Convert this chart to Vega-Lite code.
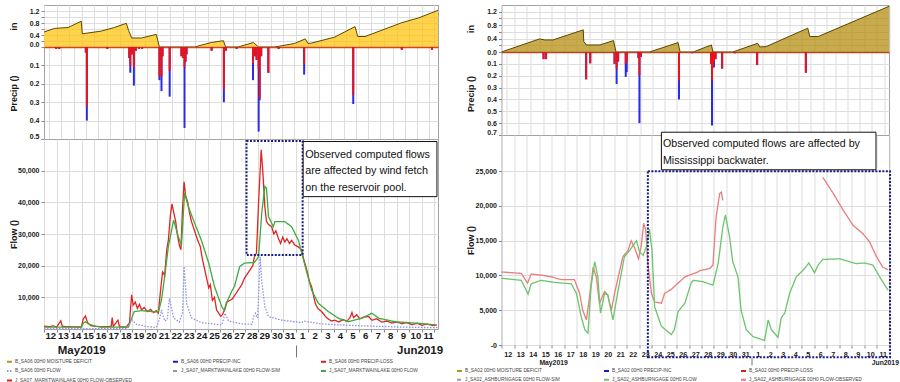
{
 "$schema": "https://vega.github.io/schema/vega-lite/v6.json",
 "background": "white",
 "padding": {"left": 5, "top": 3, "right": 5, "bottom": 0},
 "config": {
  "view": {"stroke": "#a3a3a3", "strokeWidth": 1},
  "axisX": {"labelFont": "Liberation Sans", "labelFontWeight": "bold", "labelColor": "#1a1a1a", "gridColor": "#dddddd", "tickColor": "#888888", "domain": false},
  "axisY": {"labelFont": "Liberation Sans", "labelFontSize": 7, "labelFontWeight": "bold", "labelColor": "#1a1a1a", "labelPadding": 2, "labelOverlap": false, "labelFlush": false, "tickSize": 3, "tickColor": "#888888", "gridColor": "#dddddd", "domain": false, "minExtent": 24, "maxExtent": 24, "titleFont": "Liberation Sans", "titleFontSize": 9, "titleFontWeight": "bold", "titleColor": "#1a1a1a", "titlePadding": 2},
  "legend": {"orient": "none", "direction": "horizontal", "columns": 3, "symbolType": "stroke", "symbolSize": 25, "symbolStrokeWidth": 2, "labelFont": "Liberation Sans", "labelFontSize": 4.8, "labelColor": "#444444", "labelOffset": 2, "padding": 0}
 },
 "datasets": {
  "lMoist": [
   {"t":"2019-05-12T00:00","v":0.50},{"t":"2019-05-12T20:00","v":0.62},{"t":"2019-05-13T22:00","v":0.65},{"t":"2019-05-14T23:00","v":0.86},{"t":"2019-05-15T01:00","v":0.44},{"t":"2019-05-16T13:00","v":0.53},{"t":"2019-05-17T14:00","v":0.65},{"t":"2019-05-18T13:00","v":0.79},{"t":"2019-05-18T17:00","v":0.56},{"t":"2019-05-18T23:00","v":0.30},{"t":"2019-05-19T18:00","v":0.30},{"t":"2019-05-20T22:00","v":0.42},{"t":"2019-05-21T04:00","v":0.0},{"t":"2019-05-23T23:00","v":0.0},{"t":"2019-05-25T07:00","v":0.15},{"t":"2019-05-26T06:00","v":0.21},{"t":"2019-05-26T10:00","v":0.0},{"t":"2019-05-27T10:00","v":0.0},{"t":"2019-05-28T15:00","v":0.15},{"t":"2019-05-29T01:00","v":0.0},{"t":"2019-05-30T08:00","v":0.0},{"t":"2019-05-31T22:00","v":0.12},{"t":"2019-06-01T18:00","v":0.27},{"t":"2019-06-01T23:00","v":0.12},{"t":"2019-06-02T06:00","v":0.13},{"t":"2019-06-04T02:00","v":0.33},{"t":"2019-06-05T17:00","v":0.68},{"t":"2019-06-05T22:00","v":0.35},{"t":"2019-06-06T12:00","v":0.35},{"t":"2019-06-09T10:00","v":0.81},{"t":"2019-06-10T18:00","v":0.97},{"t":"2019-06-12T07:00","v":1.22}
  ],
  "lPrecip": [
   {"t":"2019-05-12T14:00","inc":0.01,"loss":0.01},{"t":"2019-05-12T20:00","inc":0.01,"loss":0.01},{"t":"2019-05-15T00:00","inc":0.03,"loss":0.03},{"t":"2019-05-15T02:00","inc":0.40,"loss":0.32},{"t":"2019-05-16T18:00","inc":0.01,"loss":0.01},{"t":"2019-05-18T13:00","inc":0.06,"loss":0.06},{"t":"2019-05-18T15:00","inc":0.14,"loss":0.10},{"t":"2019-05-18T18:00","inc":0.04,"loss":0.04},{"t":"2019-05-18T22:00","inc":0.21,"loss":0.11},{"t":"2019-05-19T02:00","inc":0.02,"loss":0.02},{"t":"2019-05-19T08:00","inc":0.01,"loss":0.01},{"t":"2019-05-19T14:00","inc":0.01,"loss":0.01},{"t":"2019-05-21T00:00","inc":0.18,"loss":0.16},{"t":"2019-05-21T02:00","inc":0.07,"loss":0.07},{"t":"2019-05-21T04:00","inc":0.24,"loss":0.16},{"t":"2019-05-21T06:00","inc":0.05,"loss":0.05},{"t":"2019-05-21T20:00","inc":0.27,"loss":0.13},{"t":"2019-05-22T19:00","inc":0.05,"loss":0.05},{"t":"2019-05-22T22:00","inc":0.06,"loss":0.06},{"t":"2019-05-23T01:00","inc":0.44,"loss":0.11},{"t":"2019-05-23T03:00","inc":0.08,"loss":0.08},{"t":"2019-05-23T05:00","inc":0.04,"loss":0.04},{"t":"2019-05-25T06:00","inc":0.02,"loss":0.02},{"t":"2019-05-26T06:00","inc":0.30,"loss":0.23},{"t":"2019-05-26T10:00","inc":0.02,"loss":0.02},{"t":"2019-05-27T07:00","inc":0.01,"loss":0.01},{"t":"2019-05-28T15:00","inc":0.18,"loss":0.09},{"t":"2019-05-28T19:00","inc":0.05,"loss":0.05},{"t":"2019-05-28T22:00","inc":0.07,"loss":0.07},{"t":"2019-05-29T02:00","inc":0.46,"loss":0.12},{"t":"2019-05-29T04:00","inc":0.29,"loss":0.28},{"t":"2019-05-29T07:00","inc":0.05,"loss":0.05},{"t":"2019-05-29T21:00","inc":0.14,"loss":0.14},{"t":"2019-05-30T17:00","inc":0.01,"loss":0.01},{"t":"2019-06-01T19:00","inc":0.15,"loss":0.09},{"t":"2019-06-05T19:00","inc":0.31,"loss":0.26},{"t":"2019-06-09T18:00","inc":0.015,"loss":0.015},{"t":"2019-06-12T05:00","inc":0.015,"loss":0.015}
  ],
  "lFlow": [
   {"t":"2019-05-12T00:00","q":900,"s":"J_SA07_MARKTWAINLAKE 00H0 FLOW-OBSERVED"},{"t":"2019-05-12T10:00","q":700,"s":"J_SA07_MARKTWAINLAKE 00H0 FLOW-OBSERVED"},{"t":"2019-05-12T18:00","q":1000,"s":"J_SA07_MARKTWAINLAKE 00H0 FLOW-OBSERVED"},{"t":"2019-05-13T00:00","q":600,"s":"J_SA07_MARKTWAINLAKE 00H0 FLOW-OBSERVED"},{"t":"2019-05-13T08:00","q":2600,"s":"J_SA07_MARKTWAINLAKE 00H0 FLOW-OBSERVED"},{"t":"2019-05-13T11:00","q":800,"s":"J_SA07_MARKTWAINLAKE 00H0 FLOW-OBSERVED"},{"t":"2019-05-14T04:00","q":700,"s":"J_SA07_MARKTWAINLAKE 00H0 FLOW-OBSERVED"},{"t":"2019-05-14T23:00","q":600,"s":"J_SA07_MARKTWAINLAKE 00H0 FLOW-OBSERVED"},{"t":"2019-05-15T03:00","q":3200,"s":"J_SA07_MARKTWAINLAKE 00H0 FLOW-OBSERVED"},{"t":"2019-05-15T07:00","q":4100,"s":"J_SA07_MARKTWAINLAKE 00H0 FLOW-OBSERVED"},{"t":"2019-05-15T11:00","q":2000,"s":"J_SA07_MARKTWAINLAKE 00H0 FLOW-OBSERVED"},{"t":"2019-05-15T18:00","q":1000,"s":"J_SA07_MARKTWAINLAKE 00H0 FLOW-OBSERVED"},{"t":"2019-05-16T13:00","q":700,"s":"J_SA07_MARKTWAINLAKE 00H0 FLOW-OBSERVED"},{"t":"2019-05-17T08:00","q":800,"s":"J_SA07_MARKTWAINLAKE 00H0 FLOW-OBSERVED"},{"t":"2019-05-17T10:00","q":3600,"s":"J_SA07_MARKTWAINLAKE 00H0 FLOW-OBSERVED"},{"t":"2019-05-17T12:00","q":800,"s":"J_SA07_MARKTWAINLAKE 00H0 FLOW-OBSERVED"},{"t":"2019-05-17T21:00","q":2800,"s":"J_SA07_MARKTWAINLAKE 00H0 FLOW-OBSERVED"},{"t":"2019-05-18T00:00","q":700,"s":"J_SA07_MARKTWAINLAKE 00H0 FLOW-OBSERVED"},{"t":"2019-05-18T13:00","q":600,"s":"J_SA07_MARKTWAINLAKE 00H0 FLOW-OBSERVED"},{"t":"2019-05-18T19:00","q":2000,"s":"J_SA07_MARKTWAINLAKE 00H0 FLOW-OBSERVED"},{"t":"2019-05-18T23:00","q":10800,"s":"J_SA07_MARKTWAINLAKE 00H0 FLOW-OBSERVED"},{"t":"2019-05-19T02:00","q":7500,"s":"J_SA07_MARKTWAINLAKE 00H0 FLOW-OBSERVED"},{"t":"2019-05-19T06:00","q":8500,"s":"J_SA07_MARKTWAINLAKE 00H0 FLOW-OBSERVED"},{"t":"2019-05-19T10:00","q":6500,"s":"J_SA07_MARKTWAINLAKE 00H0 FLOW-OBSERVED"},{"t":"2019-05-19T14:00","q":7800,"s":"J_SA07_MARKTWAINLAKE 00H0 FLOW-OBSERVED"},{"t":"2019-05-19T18:00","q":6000,"s":"J_SA07_MARKTWAINLAKE 00H0 FLOW-OBSERVED"},{"t":"2019-05-19T23:00","q":6800,"s":"J_SA07_MARKTWAINLAKE 00H0 FLOW-OBSERVED"},{"t":"2019-05-20T05:00","q":5500,"s":"J_SA07_MARKTWAINLAKE 00H0 FLOW-OBSERVED"},{"t":"2019-05-20T11:00","q":6200,"s":"J_SA07_MARKTWAINLAKE 00H0 FLOW-OBSERVED"},{"t":"2019-05-20T17:00","q":5200,"s":"J_SA07_MARKTWAINLAKE 00H0 FLOW-OBSERVED"},{"t":"2019-05-20T22:00","q":5800,"s":"J_SA07_MARKTWAINLAKE 00H0 FLOW-OBSERVED"},{"t":"2019-05-21T02:00","q":5000,"s":"J_SA07_MARKTWAINLAKE 00H0 FLOW-OBSERVED"},{"t":"2019-05-21T06:00","q":12000,"s":"J_SA07_MARKTWAINLAKE 00H0 FLOW-OBSERVED"},{"t":"2019-05-21T10:00","q":18000,"s":"J_SA07_MARKTWAINLAKE 00H0 FLOW-OBSERVED"},{"t":"2019-05-21T14:00","q":17000,"s":"J_SA07_MARKTWAINLAKE 00H0 FLOW-OBSERVED"},{"t":"2019-05-21T18:00","q":25000,"s":"J_SA07_MARKTWAINLAKE 00H0 FLOW-OBSERVED"},{"t":"2019-05-21T21:00","q":28000,"s":"J_SA07_MARKTWAINLAKE 00H0 FLOW-OBSERVED"},{"t":"2019-05-22T01:00","q":36000,"s":"J_SA07_MARKTWAINLAKE 00H0 FLOW-OBSERVED"},{"t":"2019-05-22T04:00","q":39500,"s":"J_SA07_MARKTWAINLAKE 00H0 FLOW-OBSERVED"},{"t":"2019-05-22T07:00","q":37000,"s":"J_SA07_MARKTWAINLAKE 00H0 FLOW-OBSERVED"},{"t":"2019-05-22T11:00","q":34000,"s":"J_SA07_MARKTWAINLAKE 00H0 FLOW-OBSERVED"},{"t":"2019-05-22T14:00","q":30000,"s":"J_SA07_MARKTWAINLAKE 00H0 FLOW-OBSERVED"},{"t":"2019-05-22T18:00","q":26500,"s":"J_SA07_MARKTWAINLAKE 00H0 FLOW-OBSERVED"},{"t":"2019-05-22T21:00","q":25000,"s":"J_SA07_MARKTWAINLAKE 00H0 FLOW-OBSERVED"},{"t":"2019-05-23T00:00","q":38000,"s":"J_SA07_MARKTWAINLAKE 00H0 FLOW-OBSERVED"},{"t":"2019-05-23T03:00","q":46500,"s":"J_SA07_MARKTWAINLAKE 00H0 FLOW-OBSERVED"},{"t":"2019-05-23T06:00","q":42000,"s":"J_SA07_MARKTWAINLAKE 00H0 FLOW-OBSERVED"},{"t":"2019-05-23T10:00","q":40000,"s":"J_SA07_MARKTWAINLAKE 00H0 FLOW-OBSERVED"},{"t":"2019-05-23T13:00","q":37000,"s":"J_SA07_MARKTWAINLAKE 00H0 FLOW-OBSERVED"},{"t":"2019-05-23T17:00","q":34000,"s":"J_SA07_MARKTWAINLAKE 00H0 FLOW-OBSERVED"},{"t":"2019-05-23T23:00","q":31000,"s":"J_SA07_MARKTWAINLAKE 00H0 FLOW-OBSERVED"},{"t":"2019-05-24T05:00","q":28000,"s":"J_SA07_MARKTWAINLAKE 00H0 FLOW-OBSERVED"},{"t":"2019-05-24T10:00","q":26000,"s":"J_SA07_MARKTWAINLAKE 00H0 FLOW-OBSERVED"},{"t":"2019-05-24T14:00","q":22000,"s":"J_SA07_MARKTWAINLAKE 00H0 FLOW-OBSERVED"},{"t":"2019-05-24T18:00","q":19000,"s":"J_SA07_MARKTWAINLAKE 00H0 FLOW-OBSERVED"},{"t":"2019-05-24T22:00","q":16000,"s":"J_SA07_MARKTWAINLAKE 00H0 FLOW-OBSERVED"},{"t":"2019-05-25T02:00","q":13000,"s":"J_SA07_MARKTWAINLAKE 00H0 FLOW-OBSERVED"},{"t":"2019-05-25T05:00","q":14000,"s":"J_SA07_MARKTWAINLAKE 00H0 FLOW-OBSERVED"},{"t":"2019-05-25T09:00","q":9000,"s":"J_SA07_MARKTWAINLAKE 00H0 FLOW-OBSERVED"},{"t":"2019-05-25T13:00","q":10000,"s":"J_SA07_MARKTWAINLAKE 00H0 FLOW-OBSERVED"},{"t":"2019-05-25T17:00","q":6000,"s":"J_SA07_MARKTWAINLAKE 00H0 FLOW-OBSERVED"},{"t":"2019-05-25T21:00","q":5000,"s":"J_SA07_MARKTWAINLAKE 00H0 FLOW-OBSERVED"},{"t":"2019-05-26T01:00","q":4000,"s":"J_SA07_MARKTWAINLAKE 00H0 FLOW-OBSERVED"},{"t":"2019-05-26T04:00","q":4500,"s":"J_SA07_MARKTWAINLAKE 00H0 FLOW-OBSERVED"},{"t":"2019-05-26T08:00","q":6000,"s":"J_SA07_MARKTWAINLAKE 00H0 FLOW-OBSERVED"},{"t":"2019-05-26T12:00","q":8500,"s":"J_SA07_MARKTWAINLAKE 00H0 FLOW-OBSERVED"},{"t":"2019-05-26T18:00","q":9000,"s":"J_SA07_MARKTWAINLAKE 00H0 FLOW-OBSERVED"},{"t":"2019-05-26T23:00","q":9500,"s":"J_SA07_MARKTWAINLAKE 00H0 FLOW-OBSERVED"},{"t":"2019-05-27T05:00","q":11000,"s":"J_SA07_MARKTWAINLAKE 00H0 FLOW-OBSERVED"},{"t":"2019-05-27T11:00","q":12500,"s":"J_SA07_MARKTWAINLAKE 00H0 FLOW-OBSERVED"},{"t":"2019-05-27T17:00","q":14000,"s":"J_SA07_MARKTWAINLAKE 00H0 FLOW-OBSERVED"},{"t":"2019-05-27T22:00","q":16000,"s":"J_SA07_MARKTWAINLAKE 00H0 FLOW-OBSERVED"},{"t":"2019-05-28T04:00","q":17500,"s":"J_SA07_MARKTWAINLAKE 00H0 FLOW-OBSERVED"},{"t":"2019-05-28T10:00","q":19000,"s":"J_SA07_MARKTWAINLAKE 00H0 FLOW-OBSERVED"},{"t":"2019-05-28T14:00","q":20000,"s":"J_SA07_MARKTWAINLAKE 00H0 FLOW-OBSERVED"},{"t":"2019-05-28T17:00","q":22800,"s":"J_SA07_MARKTWAINLAKE 00H0 FLOW-OBSERVED"},{"t":"2019-05-28T21:00","q":24000,"s":"J_SA07_MARKTWAINLAKE 00H0 FLOW-OBSERVED"},{"t":"2019-05-29T01:00","q":40000,"s":"J_SA07_MARKTWAINLAKE 00H0 FLOW-OBSERVED"},{"t":"2019-05-29T06:00","q":56600,"s":"J_SA07_MARKTWAINLAKE 00H0 FLOW-OBSERVED"},{"t":"2019-05-29T09:00","q":50000,"s":"J_SA07_MARKTWAINLAKE 00H0 FLOW-OBSERVED"},{"t":"2019-05-29T13:00","q":38600,"s":"J_SA07_MARKTWAINLAKE 00H0 FLOW-OBSERVED"},{"t":"2019-05-29T16:00","q":34000,"s":"J_SA07_MARKTWAINLAKE 00H0 FLOW-OBSERVED"},{"t":"2019-05-29T20:00","q":33000,"s":"J_SA07_MARKTWAINLAKE 00H0 FLOW-OBSERVED"},{"t":"2019-05-30T02:00","q":32300,"s":"J_SA07_MARKTWAINLAKE 00H0 FLOW-OBSERVED"},{"t":"2019-05-30T06:00","q":30000,"s":"J_SA07_MARKTWAINLAKE 00H0 FLOW-OBSERVED"},{"t":"2019-05-30T10:00","q":31000,"s":"J_SA07_MARKTWAINLAKE 00H0 FLOW-OBSERVED"},{"t":"2019-05-30T15:00","q":28500,"s":"J_SA07_MARKTWAINLAKE 00H0 FLOW-OBSERVED"},{"t":"2019-05-30T19:00","q":27000,"s":"J_SA07_MARKTWAINLAKE 00H0 FLOW-OBSERVED"},{"t":"2019-05-30T23:00","q":29000,"s":"J_SA07_MARKTWAINLAKE 00H0 FLOW-OBSERVED"},{"t":"2019-05-31T03:00","q":27500,"s":"J_SA07_MARKTWAINLAKE 00H0 FLOW-OBSERVED"},{"t":"2019-05-31T07:00","q":28500,"s":"J_SA07_MARKTWAINLAKE 00H0 FLOW-OBSERVED"},{"t":"2019-05-31T12:00","q":27000,"s":"J_SA07_MARKTWAINLAKE 00H0 FLOW-OBSERVED"},{"t":"2019-05-31T16:00","q":28000,"s":"J_SA07_MARKTWAINLAKE 00H0 FLOW-OBSERVED"},{"t":"2019-05-31T22:00","q":26500,"s":"J_SA07_MARKTWAINLAKE 00H0 FLOW-OBSERVED"},{"t":"2019-06-01T04:00","q":26000,"s":"J_SA07_MARKTWAINLAKE 00H0 FLOW-OBSERVED"},{"t":"2019-06-01T11:00","q":25000,"s":"J_SA07_MARKTWAINLAKE 00H0 FLOW-OBSERVED"},{"t":"2019-06-01T15:00","q":22000,"s":"J_SA07_MARKTWAINLAKE 00H0 FLOW-OBSERVED"},{"t":"2019-06-01T21:00","q":18600,"s":"J_SA07_MARKTWAINLAKE 00H0 FLOW-OBSERVED"},{"t":"2019-06-02T02:00","q":15000,"s":"J_SA07_MARKTWAINLAKE 00H0 FLOW-OBSERVED"},{"t":"2019-06-02T06:00","q":13400,"s":"J_SA07_MARKTWAINLAKE 00H0 FLOW-OBSERVED"},{"t":"2019-06-02T13:00","q":8100,"s":"J_SA07_MARKTWAINLAKE 00H0 FLOW-OBSERVED"},{"t":"2019-06-02T18:00","q":6500,"s":"J_SA07_MARKTWAINLAKE 00H0 FLOW-OBSERVED"},{"t":"2019-06-03T01:00","q":5500,"s":"J_SA07_MARKTWAINLAKE 00H0 FLOW-OBSERVED"},{"t":"2019-06-03T11:00","q":3500,"s":"J_SA07_MARKTWAINLAKE 00H0 FLOW-OBSERVED"},{"t":"2019-06-03T20:00","q":2500,"s":"J_SA07_MARKTWAINLAKE 00H0 FLOW-OBSERVED"},{"t":"2019-06-04T02:00","q":2800,"s":"J_SA07_MARKTWAINLAKE 00H0 FLOW-OBSERVED"},{"t":"2019-06-04T10:00","q":2200,"s":"J_SA07_MARKTWAINLAKE 00H0 FLOW-OBSERVED"},{"t":"2019-06-04T18:00","q":3000,"s":"J_SA07_MARKTWAINLAKE 00H0 FLOW-OBSERVED"},{"t":"2019-06-05T01:00","q":2400,"s":"J_SA07_MARKTWAINLAKE 00H0 FLOW-OBSERVED"},{"t":"2019-06-05T07:00","q":3500,"s":"J_SA07_MARKTWAINLAKE 00H0 FLOW-OBSERVED"},{"t":"2019-06-05T11:00","q":5200,"s":"J_SA07_MARKTWAINLAKE 00H0 FLOW-OBSERVED"},{"t":"2019-06-05T14:00","q":3600,"s":"J_SA07_MARKTWAINLAKE 00H0 FLOW-OBSERVED"},{"t":"2019-06-05T20:00","q":4500,"s":"J_SA07_MARKTWAINLAKE 00H0 FLOW-OBSERVED"},{"t":"2019-06-06T02:00","q":3200,"s":"J_SA07_MARKTWAINLAKE 00H0 FLOW-OBSERVED"},{"t":"2019-06-06T10:00","q":3800,"s":"J_SA07_MARKTWAINLAKE 00H0 FLOW-OBSERVED"},{"t":"2019-06-06T19:00","q":3900,"s":"J_SA07_MARKTWAINLAKE 00H0 FLOW-OBSERVED"},{"t":"2019-06-07T01:00","q":2800,"s":"J_SA07_MARKTWAINLAKE 00H0 FLOW-OBSERVED"},{"t":"2019-06-07T10:00","q":3200,"s":"J_SA07_MARKTWAINLAKE 00H0 FLOW-OBSERVED"},{"t":"2019-06-07T20:00","q":2200,"s":"J_SA07_MARKTWAINLAKE 00H0 FLOW-OBSERVED"},{"t":"2019-06-08T06:00","q":2500,"s":"J_SA07_MARKTWAINLAKE 00H0 FLOW-OBSERVED"},{"t":"2019-06-08T15:00","q":1900,"s":"J_SA07_MARKTWAINLAKE 00H0 FLOW-OBSERVED"},{"t":"2019-06-09T01:00","q":2200,"s":"J_SA07_MARKTWAINLAKE 00H0 FLOW-OBSERVED"},{"t":"2019-06-09T10:00","q":1700,"s":"J_SA07_MARKTWAINLAKE 00H0 FLOW-OBSERVED"},{"t":"2019-06-09T20:00","q":2000,"s":"J_SA07_MARKTWAINLAKE 00H0 FLOW-OBSERVED"},{"t":"2019-06-10T05:00","q":1400,"s":"J_SA07_MARKTWAINLAKE 00H0 FLOW-OBSERVED"},{"t":"2019-06-10T15:00","q":1800,"s":"J_SA07_MARKTWAINLAKE 00H0 FLOW-OBSERVED"},{"t":"2019-06-11T00:00","q":1200,"s":"J_SA07_MARKTWAINLAKE 00H0 FLOW-OBSERVED"},{"t":"2019-06-11T10:00","q":1600,"s":"J_SA07_MARKTWAINLAKE 00H0 FLOW-OBSERVED"},{"t":"2019-06-11T20:00","q":1100,"s":"J_SA07_MARKTWAINLAKE 00H0 FLOW-OBSERVED"},{"t":"2019-06-12T05:00","q":1300,"s":"J_SA07_MARKTWAINLAKE 00H0 FLOW-OBSERVED"},
   {"t":"2019-05-12T00:00","q":600,"s":"J_SA07_MARKTWAINLAKE 00H0 FLOW"},{"t":"2019-05-14T23:00","q":600,"s":"J_SA07_MARKTWAINLAKE 00H0 FLOW"},{"t":"2019-05-15T03:00","q":1800,"s":"J_SA07_MARKTWAINLAKE 00H0 FLOW"},{"t":"2019-05-15T07:00","q":2300,"s":"J_SA07_MARKTWAINLAKE 00H0 FLOW"},{"t":"2019-05-15T14:00","q":1500,"s":"J_SA07_MARKTWAINLAKE 00H0 FLOW"},{"t":"2019-05-16T04:00","q":800,"s":"J_SA07_MARKTWAINLAKE 00H0 FLOW"},{"t":"2019-05-16T13:00","q":600,"s":"J_SA07_MARKTWAINLAKE 00H0 FLOW"},{"t":"2019-05-18T17:00","q":600,"s":"J_SA07_MARKTWAINLAKE 00H0 FLOW"},{"t":"2019-05-18T23:00","q":3400,"s":"J_SA07_MARKTWAINLAKE 00H0 FLOW"},{"t":"2019-05-19T04:00","q":5500,"s":"J_SA07_MARKTWAINLAKE 00H0 FLOW"},{"t":"2019-05-19T18:00","q":5800,"s":"J_SA07_MARKTWAINLAKE 00H0 FLOW"},{"t":"2019-05-20T13:00","q":5500,"s":"J_SA07_MARKTWAINLAKE 00H0 FLOW"},{"t":"2019-05-21T02:00","q":5400,"s":"J_SA07_MARKTWAINLAKE 00H0 FLOW"},{"t":"2019-05-21T08:00","q":9200,"s":"J_SA07_MARKTWAINLAKE 00H0 FLOW"},{"t":"2019-05-21T14:00","q":16500,"s":"J_SA07_MARKTWAINLAKE 00H0 FLOW"},{"t":"2019-05-21T21:00","q":26000,"s":"J_SA07_MARKTWAINLAKE 00H0 FLOW"},{"t":"2019-05-22T07:00","q":34400,"s":"J_SA07_MARKTWAINLAKE 00H0 FLOW"},{"t":"2019-05-22T16:00","q":29200,"s":"J_SA07_MARKTWAINLAKE 00H0 FLOW"},{"t":"2019-05-22T22:00","q":26500,"s":"J_SA07_MARKTWAINLAKE 00H0 FLOW"},{"t":"2019-05-23T04:00","q":43000,"s":"J_SA07_MARKTWAINLAKE 00H0 FLOW"},{"t":"2019-05-23T11:00","q":38600,"s":"J_SA07_MARKTWAINLAKE 00H0 FLOW"},{"t":"2019-05-23T23:00","q":33500,"s":"J_SA07_MARKTWAINLAKE 00H0 FLOW"},{"t":"2019-05-24T12:00","q":28000,"s":"J_SA07_MARKTWAINLAKE 00H0 FLOW"},{"t":"2019-05-25T02:00","q":20800,"s":"J_SA07_MARKTWAINLAKE 00H0 FLOW"},{"t":"2019-05-25T13:00","q":13400,"s":"J_SA07_MARKTWAINLAKE 00H0 FLOW"},{"t":"2019-05-26T03:00","q":7000,"s":"J_SA07_MARKTWAINLAKE 00H0 FLOW"},{"t":"2019-05-26T08:00","q":5800,"s":"J_SA07_MARKTWAINLAKE 00H0 FLOW"},{"t":"2019-05-26T14:00","q":9000,"s":"J_SA07_MARKTWAINLAKE 00H0 FLOW"},{"t":"2019-05-26T22:00","q":12000,"s":"J_SA07_MARKTWAINLAKE 00H0 FLOW"},{"t":"2019-05-27T03:00","q":13400,"s":"J_SA07_MARKTWAINLAKE 00H0 FLOW"},{"t":"2019-05-27T13:00","q":19700,"s":"J_SA07_MARKTWAINLAKE 00H0 FLOW"},{"t":"2019-05-27T22:00","q":20800,"s":"J_SA07_MARKTWAINLAKE 00H0 FLOW"},{"t":"2019-05-28T17:00","q":21000,"s":"J_SA07_MARKTWAINLAKE 00H0 FLOW"},{"t":"2019-05-29T01:00","q":22800,"s":"J_SA07_MARKTWAINLAKE 00H0 FLOW"},{"t":"2019-05-29T07:00","q":36600,"s":"J_SA07_MARKTWAINLAKE 00H0 FLOW"},{"t":"2019-05-29T13:00","q":45000,"s":"J_SA07_MARKTWAINLAKE 00H0 FLOW"},{"t":"2019-05-29T16:00","q":44500,"s":"J_SA07_MARKTWAINLAKE 00H0 FLOW"},{"t":"2019-05-29T20:00","q":35500,"s":"J_SA07_MARKTWAINLAKE 00H0 FLOW"},{"t":"2019-05-30T05:00","q":32300,"s":"J_SA07_MARKTWAINLAKE 00H0 FLOW"},{"t":"2019-05-30T08:00","q":33900,"s":"J_SA07_MARKTWAINLAKE 00H0 FLOW"},{"t":"2019-05-31T03:00","q":33900,"s":"J_SA07_MARKTWAINLAKE 00H0 FLOW"},{"t":"2019-05-31T16:00","q":32300,"s":"J_SA07_MARKTWAINLAKE 00H0 FLOW"},{"t":"2019-06-01T05:00","q":28000,"s":"J_SA07_MARKTWAINLAKE 00H0 FLOW"},{"t":"2019-06-01T18:00","q":19700,"s":"J_SA07_MARKTWAINLAKE 00H0 FLOW"},{"t":"2019-06-02T06:00","q":12300,"s":"J_SA07_MARKTWAINLAKE 00H0 FLOW"},{"t":"2019-06-02T19:00","q":8100,"s":"J_SA07_MARKTWAINLAKE 00H0 FLOW"},{"t":"2019-06-03T14:00","q":5500,"s":"J_SA07_MARKTWAINLAKE 00H0 FLOW"},{"t":"2019-06-04T09:00","q":3400,"s":"J_SA07_MARKTWAINLAKE 00H0 FLOW"},{"t":"2019-06-05T04:00","q":2300,"s":"J_SA07_MARKTWAINLAKE 00H0 FLOW"},{"t":"2019-06-06T06:00","q":3400,"s":"J_SA07_MARKTWAINLAKE 00H0 FLOW"},{"t":"2019-06-07T01:00","q":5000,"s":"J_SA07_MARKTWAINLAKE 00H0 FLOW"},{"t":"2019-06-07T14:00","q":3400,"s":"J_SA07_MARKTWAINLAKE 00H0 FLOW"},{"t":"2019-06-08T21:00","q":2300,"s":"J_SA07_MARKTWAINLAKE 00H0 FLOW"},{"t":"2019-06-10T18:00","q":1800,"s":"J_SA07_MARKTWAINLAKE 00H0 FLOW"},{"t":"2019-06-12T01:00","q":1300,"s":"J_SA07_MARKTWAINLAKE 00H0 FLOW"},
   {"t":"2019-05-12T00:00","q":100,"s":"B_SA06 00H0 FLOW"},{"t":"2019-05-18T13:00","q":100,"s":"B_SA06 00H0 FLOW"},{"t":"2019-05-18T19:00","q":1500,"s":"B_SA06 00H0 FLOW"},{"t":"2019-05-18T23:00","q":3000,"s":"B_SA06 00H0 FLOW"},{"t":"2019-05-19T08:00","q":1500,"s":"B_SA06 00H0 FLOW"},{"t":"2019-05-20T03:00","q":800,"s":"B_SA06 00H0 FLOW"},{"t":"2019-05-20T22:00","q":500,"s":"B_SA06 00H0 FLOW"},{"t":"2019-05-21T04:00","q":3000,"s":"B_SA06 00H0 FLOW"},{"t":"2019-05-21T08:00","q":6000,"s":"B_SA06 00H0 FLOW"},{"t":"2019-05-21T14:00","q":2500,"s":"B_SA06 00H0 FLOW"},{"t":"2019-05-21T19:00","q":3000,"s":"B_SA06 00H0 FLOW"},{"t":"2019-05-21T23:00","q":9700,"s":"B_SA06 00H0 FLOW"},{"t":"2019-05-22T07:00","q":3500,"s":"B_SA06 00H0 FLOW"},{"t":"2019-05-22T18:00","q":2200,"s":"B_SA06 00H0 FLOW"},{"t":"2019-05-23T00:00","q":5000,"s":"B_SA06 00H0 FLOW"},{"t":"2019-05-23T03:00","q":19700,"s":"B_SA06 00H0 FLOW"},{"t":"2019-05-23T08:00","q":8000,"s":"B_SA06 00H0 FLOW"},{"t":"2019-05-23T17:00","q":3500,"s":"B_SA06 00H0 FLOW"},{"t":"2019-05-24T12:00","q":2000,"s":"B_SA06 00H0 FLOW"},{"t":"2019-05-26T03:00","q":1300,"s":"B_SA06 00H0 FLOW"},{"t":"2019-05-26T06:00","q":3000,"s":"B_SA06 00H0 FLOW"},{"t":"2019-05-26T09:00","q":5000,"s":"B_SA06 00H0 FLOW"},{"t":"2019-05-26T16:00","q":2500,"s":"B_SA06 00H0 FLOW"},{"t":"2019-05-27T17:00","q":1600,"s":"B_SA06 00H0 FLOW"},{"t":"2019-05-28T12:00","q":1500,"s":"B_SA06 00H0 FLOW"},{"t":"2019-05-28T16:00","q":4000,"s":"B_SA06 00H0 FLOW"},{"t":"2019-05-28T19:00","q":5000,"s":"B_SA06 00H0 FLOW"},{"t":"2019-05-28T23:00","q":3500,"s":"B_SA06 00H0 FLOW"},{"t":"2019-05-29T01:00","q":10000,"s":"B_SA06 00H0 FLOW"},{"t":"2019-05-29T04:00","q":22800,"s":"B_SA06 00H0 FLOW"},{"t":"2019-05-29T07:00","q":15000,"s":"B_SA06 00H0 FLOW"},{"t":"2019-05-29T13:00","q":7000,"s":"B_SA06 00H0 FLOW"},{"t":"2019-05-29T20:00","q":3900,"s":"B_SA06 00H0 FLOW"},{"t":"2019-05-30T21:00","q":2800,"s":"B_SA06 00H0 FLOW"},{"t":"2019-06-01T11:00","q":2000,"s":"B_SA06 00H0 FLOW"},{"t":"2019-06-01T15:00","q":2500,"s":"B_SA06 00H0 FLOW"},{"t":"2019-06-03T01:00","q":1600,"s":"B_SA06 00H0 FLOW"},{"t":"2019-06-06T06:00","q":1000,"s":"B_SA06 00H0 FLOW"},{"t":"2019-06-09T10:00","q":600,"s":"B_SA06 00H0 FLOW"},{"t":"2019-06-12T07:00","q":400,"s":"B_SA06 00H0 FLOW"}
  ],
  "lDot": [{"t1":"2019-05-28T02:00","t2":"2019-06-01T13:00","q1":23400,"q2":59400}],
  "lBox": [{"t1":"2019-06-01T14:00","t2":"2019-06-12T05:00","q1":41800,"q2":59200}],
  "rMoist": [
   {"t":"2019-05-12T00:00","v":0},{"t":"2019-05-15T01:00","v":0.39},{"t":"2019-05-15T11:00","v":0.36},{"t":"2019-05-16T03:00","v":0.36},{"t":"2019-05-18T13:00","v":0.66},{"t":"2019-05-18T14:00","v":0.31},{"t":"2019-05-18T19:00","v":0.21},{"t":"2019-05-19T21:00","v":0.21},{"t":"2019-05-20T23:00","v":0.34},{"t":"2019-05-21T04:00","v":0},{"t":"2019-05-23T20:00","v":0},{"t":"2019-05-26T03:00","v":0.28},{"t":"2019-05-26T07:00","v":0},{"t":"2019-05-27T08:00","v":0},{"t":"2019-05-28T19:00","v":0.21},{"t":"2019-05-28T22:00","v":0},{"t":"2019-05-30T12:00","v":0},{"t":"2019-06-01T12:00","v":0.26},{"t":"2019-06-01T16:00","v":0.15},{"t":"2019-06-02T04:00","v":0.16},{"t":"2019-06-05T12:00","v":0.71},{"t":"2019-06-05T16:00","v":0.46},{"t":"2019-06-06T08:00","v":0.46},{"t":"2019-06-12T00:00","v":1.36}
  ],
  "rPrecip": [
   {"t":"2019-05-15T01:00","inc":0.06,"loss":0.06},{"t":"2019-05-15T06:00","inc":0.06,"loss":0.06},{"t":"2019-05-18T13:00","inc":0.23,"loss":0.23},{"t":"2019-05-18T21:00","inc":0.095,"loss":0.095},{"t":"2019-05-20T21:00","inc":0.10,"loss":0.10},{"t":"2019-05-21T01:00","inc":0.27,"loss":0.14},{"t":"2019-05-21T04:00","inc":0.08,"loss":0.08},{"t":"2019-05-21T19:00","inc":0.21,"loss":0.10},{"t":"2019-05-21T21:00","inc":0.17,"loss":0.08},{"t":"2019-05-22T20:00","inc":0.05,"loss":0.05},{"t":"2019-05-22T22:00","inc":0.60,"loss":0.195},{"t":"2019-05-23T01:00","inc":0.04,"loss":0.04},{"t":"2019-05-26T04:00","inc":0.40,"loss":0.24},{"t":"2019-05-27T06:00","inc":0.01,"loss":0.01},{"t":"2019-05-28T19:00","inc":0.10,"loss":0.10},{"t":"2019-05-28T21:00","inc":0.62,"loss":0.24},{"t":"2019-05-28T23:00","inc":0.13,"loss":0.13},{"t":"2019-05-29T01:00","inc":0.13,"loss":0.08},{"t":"2019-05-29T04:00","inc":0.06,"loss":0.06},{"t":"2019-05-29T17:00","inc":0.14,"loss":0.14},{"t":"2019-05-30T18:00","inc":0.01,"loss":0.01},{"t":"2019-06-01T14:00","inc":0.11,"loss":0.11},{"t":"2019-06-05T14:00","inc":0.175,"loss":0.175}
  ],
  "rFlow": [
   {"t":"2019-05-12T00:00","q":10500,"s":"J_SA02_ASHBURNGAGE 00H0 FLOW-OBSERVED"},{"t":"2019-05-13T14:00","q":10300,"s":"J_SA02_ASHBURNGAGE 00H0 FLOW-OBSERVED"},{"t":"2019-05-13T20:00","q":9600,"s":"J_SA02_ASHBURNGAGE 00H0 FLOW-OBSERVED"},{"t":"2019-05-14T02:00","q":8900,"s":"J_SA02_ASHBURNGAGE 00H0 FLOW-OBSERVED"},{"t":"2019-05-14T09:00","q":10200,"s":"J_SA02_ASHBURNGAGE 00H0 FLOW-OBSERVED"},{"t":"2019-05-15T04:00","q":10050,"s":"J_SA02_ASHBURNGAGE 00H0 FLOW-OBSERVED"},{"t":"2019-05-16T00:00","q":9800,"s":"J_SA02_ASHBURNGAGE 00H0 FLOW-OBSERVED"},{"t":"2019-05-16T19:00","q":9400,"s":"J_SA02_ASHBURNGAGE 00H0 FLOW-OBSERVED"},{"t":"2019-05-17T20:00","q":9400,"s":"J_SA02_ASHBURNGAGE 00H0 FLOW-OBSERVED"},{"t":"2019-05-18T06:00","q":7400,"s":"J_SA02_ASHBURNGAGE 00H0 FLOW-OBSERVED"},{"t":"2019-05-18T12:00","q":5000,"s":"J_SA02_ASHBURNGAGE 00H0 FLOW-OBSERVED"},{"t":"2019-05-18T19:00","q":3600,"s":"J_SA02_ASHBURNGAGE 00H0 FLOW-OBSERVED"},{"t":"2019-05-19T01:00","q":6900,"s":"J_SA02_ASHBURNGAGE 00H0 FLOW-OBSERVED"},{"t":"2019-05-19T08:00","q":11200,"s":"J_SA02_ASHBURNGAGE 00H0 FLOW-OBSERVED"},{"t":"2019-05-19T14:00","q":9800,"s":"J_SA02_ASHBURNGAGE 00H0 FLOW-OBSERVED"},{"t":"2019-05-19T20:00","q":6000,"s":"J_SA02_ASHBURNGAGE 00H0 FLOW-OBSERVED"},{"t":"2019-05-20T06:00","q":7700,"s":"J_SA02_ASHBURNGAGE 00H0 FLOW-OBSERVED"},{"t":"2019-05-20T12:00","q":7200,"s":"J_SA02_ASHBURNGAGE 00H0 FLOW-OBSERVED"},{"t":"2019-05-20T19:00","q":5000,"s":"J_SA02_ASHBURNGAGE 00H0 FLOW-OBSERVED"},{"t":"2019-05-21T01:00","q":7400,"s":"J_SA02_ASHBURNGAGE 00H0 FLOW-OBSERVED"},{"t":"2019-05-21T17:00","q":12700,"s":"J_SA02_ASHBURNGAGE 00H0 FLOW-OBSERVED"},{"t":"2019-05-22T03:00","q":13600,"s":"J_SA02_ASHBURNGAGE 00H0 FLOW-OBSERVED"},{"t":"2019-05-22T09:00","q":15000,"s":"J_SA02_ASHBURNGAGE 00H0 FLOW-OBSERVED"},{"t":"2019-05-22T16:00","q":13900,"s":"J_SA02_ASHBURNGAGE 00H0 FLOW-OBSERVED"},{"t":"2019-05-22T23:00","q":12400,"s":"J_SA02_ASHBURNGAGE 00H0 FLOW-OBSERVED"},{"t":"2019-05-23T04:00","q":14100,"s":"J_SA02_ASHBURNGAGE 00H0 FLOW-OBSERVED"},{"t":"2019-05-23T09:00","q":17500,"s":"J_SA02_ASHBURNGAGE 00H0 FLOW-OBSERVED"},{"t":"2019-05-23T13:00","q":16500,"s":"J_SA02_ASHBURNGAGE 00H0 FLOW-OBSERVED"},{"t":"2019-05-23T17:00","q":11700,"s":"J_SA02_ASHBURNGAGE 00H0 FLOW-OBSERVED"},{"t":"2019-05-24T00:00","q":7400,"s":"J_SA02_ASHBURNGAGE 00H0 FLOW-OBSERVED"},{"t":"2019-05-24T06:00","q":6200,"s":"J_SA02_ASHBURNGAGE 00H0 FLOW-OBSERVED"},{"t":"2019-05-24T19:00","q":6000,"s":"J_SA02_ASHBURNGAGE 00H0 FLOW-OBSERVED"},{"t":"2019-05-25T01:00","q":7400,"s":"J_SA02_ASHBURNGAGE 00H0 FLOW-OBSERVED"},{"t":"2019-05-25T14:00","q":8000,"s":"J_SA02_ASHBURNGAGE 00H0 FLOW-OBSERVED"},{"t":"2019-05-26T16:00","q":9800,"s":"J_SA02_ASHBURNGAGE 00H0 FLOW-OBSERVED"},{"t":"2019-05-27T17:00","q":10500,"s":"J_SA02_ASHBURNGAGE 00H0 FLOW-OBSERVED"},{"t":"2019-05-27T21:00","q":10700,"s":"J_SA02_ASHBURNGAGE 00H0 FLOW-OBSERVED"},{"t":"2019-05-28T16:00","q":11000,"s":"J_SA02_ASHBURNGAGE 00H0 FLOW-OBSERVED"},{"t":"2019-05-28T22:00","q":11500,"s":"J_SA02_ASHBURNGAGE 00H0 FLOW-OBSERVED"},{"t":"2019-05-29T04:00","q":18400,"s":"J_SA02_ASHBURNGAGE 00H0 FLOW-OBSERVED"},{"t":"2019-05-29T11:00","q":21800,"s":"J_SA02_ASHBURNGAGE 00H0 FLOW-OBSERVED"},{"t":"2019-05-29T14:00","q":22000,"s":"J_SA02_ASHBURNGAGE 00H0 FLOW-OBSERVED"},{"t":"2019-05-29T17:00","q":20800,"s":"J_SA02_ASHBURNGAGE 00H0 FLOW-OBSERVED"},
   {"t":"2019-06-06T17:00","q":24100,"s":"J_SA02_ASHBURNGAGE 00H0 FLOW-OBSERVED","seg":"b"},{"t":"2019-06-07T13:00","q":21800,"s":"J_SA02_ASHBURNGAGE 00H0 FLOW-OBSERVED","seg":"b"},{"t":"2019-06-08T08:00","q":19400,"s":"J_SA02_ASHBURNGAGE 00H0 FLOW-OBSERVED","seg":"b"},{"t":"2019-06-09T03:00","q":17200,"s":"J_SA02_ASHBURNGAGE 00H0 FLOW-OBSERVED","seg":"b"},{"t":"2019-06-09T22:00","q":16000,"s":"J_SA02_ASHBURNGAGE 00H0 FLOW-OBSERVED","seg":"b"},{"t":"2019-06-10T11:00","q":14800,"s":"J_SA02_ASHBURNGAGE 00H0 FLOW-OBSERVED","seg":"b"},{"t":"2019-06-11T00:00","q":12700,"s":"J_SA02_ASHBURNGAGE 00H0 FLOW-OBSERVED","seg":"b"},{"t":"2019-06-11T12:00","q":11200,"s":"J_SA02_ASHBURNGAGE 00H0 FLOW-OBSERVED","seg":"b"},{"t":"2019-06-11T22:00","q":10800,"s":"J_SA02_ASHBURNGAGE 00H0 FLOW-OBSERVED","seg":"b"},
   {"t":"2019-05-12T00:00","q":9600,"s":"J_SA02_ASHBURNGAGE 00H0 FLOW"},{"t":"2019-05-13T14:00","q":9300,"s":"J_SA02_ASHBURNGAGE 00H0 FLOW"},{"t":"2019-05-13T20:00","q":8400,"s":"J_SA02_ASHBURNGAGE 00H0 FLOW"},{"t":"2019-05-14T03:00","q":7300,"s":"J_SA02_ASHBURNGAGE 00H0 FLOW"},{"t":"2019-05-14T09:00","q":8800,"s":"J_SA02_ASHBURNGAGE 00H0 FLOW"},{"t":"2019-05-15T04:00","q":9300,"s":"J_SA02_ASHBURNGAGE 00H0 FLOW"},{"t":"2019-05-16T06:00","q":9000,"s":"J_SA02_ASHBURNGAGE 00H0 FLOW"},{"t":"2019-05-17T14:00","q":8800,"s":"J_SA02_ASHBURNGAGE 00H0 FLOW"},{"t":"2019-05-18T00:00","q":7400,"s":"J_SA02_ASHBURNGAGE 00H0 FLOW"},{"t":"2019-05-18T09:00","q":4100,"s":"J_SA02_ASHBURNGAGE 00H0 FLOW"},{"t":"2019-05-18T16:00","q":2200,"s":"J_SA02_ASHBURNGAGE 00H0 FLOW"},{"t":"2019-05-18T22:00","q":1700,"s":"J_SA02_ASHBURNGAGE 00H0 FLOW"},{"t":"2019-05-19T04:00","q":8400,"s":"J_SA02_ASHBURNGAGE 00H0 FLOW"},{"t":"2019-05-19T11:00","q":12000,"s":"J_SA02_ASHBURNGAGE 00H0 FLOW"},{"t":"2019-05-19T17:00","q":9800,"s":"J_SA02_ASHBURNGAGE 00H0 FLOW"},{"t":"2019-05-19T22:00","q":4600,"s":"J_SA02_ASHBURNGAGE 00H0 FLOW"},{"t":"2019-05-20T06:00","q":7400,"s":"J_SA02_ASHBURNGAGE 00H0 FLOW"},{"t":"2019-05-20T12:00","q":7200,"s":"J_SA02_ASHBURNGAGE 00H0 FLOW"},{"t":"2019-05-20T22:00","q":3600,"s":"J_SA02_ASHBURNGAGE 00H0 FLOW"},{"t":"2019-05-21T08:00","q":7900,"s":"J_SA02_ASHBURNGAGE 00H0 FLOW"},{"t":"2019-05-21T20:00","q":12700,"s":"J_SA02_ASHBURNGAGE 00H0 FLOW"},{"t":"2019-05-22T06:00","q":13600,"s":"J_SA02_ASHBURNGAGE 00H0 FLOW"},{"t":"2019-05-22T19:00","q":15000,"s":"J_SA02_ASHBURNGAGE 00H0 FLOW"},{"t":"2019-05-23T01:00","q":13400,"s":"J_SA02_ASHBURNGAGE 00H0 FLOW"},{"t":"2019-05-23T08:00","q":12900,"s":"J_SA02_ASHBURNGAGE 00H0 FLOW"},{"t":"2019-05-23T14:00","q":14100,"s":"J_SA02_ASHBURNGAGE 00H0 FLOW"},{"t":"2019-05-23T20:00","q":16700,"s":"J_SA02_ASHBURNGAGE 00H0 FLOW"},{"t":"2019-05-24T01:00","q":13600,"s":"J_SA02_ASHBURNGAGE 00H0 FLOW"},{"t":"2019-05-24T06:00","q":5500,"s":"J_SA02_ASHBURNGAGE 00H0 FLOW"},{"t":"2019-05-24T19:00","q":2700,"s":"J_SA02_ASHBURNGAGE 00H0 FLOW"},{"t":"2019-05-25T14:00","q":1500,"s":"J_SA02_ASHBURNGAGE 00H0 FLOW"},{"t":"2019-05-25T20:00","q":2200,"s":"J_SA02_ASHBURNGAGE 00H0 FLOW"},{"t":"2019-05-26T03:00","q":4800,"s":"J_SA02_ASHBURNGAGE 00H0 FLOW"},{"t":"2019-05-26T16:00","q":6000,"s":"J_SA02_ASHBURNGAGE 00H0 FLOW"},{"t":"2019-05-27T04:00","q":8900,"s":"J_SA02_ASHBURNGAGE 00H0 FLOW"},{"t":"2019-05-27T08:00","q":9300,"s":"J_SA02_ASHBURNGAGE 00H0 FLOW"},{"t":"2019-05-28T03:00","q":9100,"s":"J_SA02_ASHBURNGAGE 00H0 FLOW"},{"t":"2019-05-28T22:00","q":8600,"s":"J_SA02_ASHBURNGAGE 00H0 FLOW"},{"t":"2019-05-29T08:00","q":11700,"s":"J_SA02_ASHBURNGAGE 00H0 FLOW"},{"t":"2019-05-29T17:00","q":17000,"s":"J_SA02_ASHBURNGAGE 00H0 FLOW"},{"t":"2019-05-29T22:00","q":18700,"s":"J_SA02_ASHBURNGAGE 00H0 FLOW"},{"t":"2019-05-30T06:00","q":15500,"s":"J_SA02_ASHBURNGAGE 00H0 FLOW"},{"t":"2019-05-30T12:00","q":12000,"s":"J_SA02_ASHBURNGAGE 00H0 FLOW"},{"t":"2019-05-30T22:00","q":9800,"s":"J_SA02_ASHBURNGAGE 00H0 FLOW"},{"t":"2019-05-31T04:00","q":5000,"s":"J_SA02_ASHBURNGAGE 00H0 FLOW"},{"t":"2019-05-31T14:00","q":2200,"s":"J_SA02_ASHBURNGAGE 00H0 FLOW"},{"t":"2019-06-01T03:00","q":1200,"s":"J_SA02_ASHBURNGAGE 00H0 FLOW"},{"t":"2019-06-02T01:00","q":650,"s":"J_SA02_ASHBURNGAGE 00H0 FLOW"},{"t":"2019-06-02T08:00","q":3600,"s":"J_SA02_ASHBURNGAGE 00H0 FLOW"},{"t":"2019-06-02T14:00","q":2200,"s":"J_SA02_ASHBURNGAGE 00H0 FLOW"},{"t":"2019-06-03T03:00","q":1100,"s":"J_SA02_ASHBURNGAGE 00H0 FLOW"},{"t":"2019-06-03T09:00","q":3900,"s":"J_SA02_ASHBURNGAGE 00H0 FLOW"},{"t":"2019-06-03T16:00","q":4600,"s":"J_SA02_ASHBURNGAGE 00H0 FLOW"},{"t":"2019-06-04T01:00","q":7400,"s":"J_SA02_ASHBURNGAGE 00H0 FLOW"},{"t":"2019-06-04T14:00","q":9800,"s":"J_SA02_ASHBURNGAGE 00H0 FLOW"},{"t":"2019-06-05T06:00","q":11000,"s":"J_SA02_ASHBURNGAGE 00H0 FLOW"},{"t":"2019-06-05T14:00","q":11800,"s":"J_SA02_ASHBURNGAGE 00H0 FLOW"},{"t":"2019-06-06T01:00","q":10400,"s":"J_SA02_ASHBURNGAGE 00H0 FLOW"},{"t":"2019-06-06T08:00","q":11500,"s":"J_SA02_ASHBURNGAGE 00H0 FLOW"},{"t":"2019-06-06T17:00","q":12300,"s":"J_SA02_ASHBURNGAGE 00H0 FLOW"},{"t":"2019-06-08T01:00","q":12400,"s":"J_SA02_ASHBURNGAGE 00H0 FLOW"},{"t":"2019-06-09T09:00","q":11700,"s":"J_SA02_ASHBURNGAGE 00H0 FLOW"},{"t":"2019-06-10T01:00","q":11800,"s":"J_SA02_ASHBURNGAGE 00H0 FLOW"},{"t":"2019-06-10T17:00","q":11500,"s":"J_SA02_ASHBURNGAGE 00H0 FLOW"},{"t":"2019-06-11T06:00","q":9800,"s":"J_SA02_ASHBURNGAGE 00H0 FLOW"},{"t":"2019-06-11T22:00","q":7900,"s":"J_SA02_ASHBURNGAGE 00H0 FLOW"}
  ],
  "rDot": [{"t1":"2019-05-23T17:00","t2":"2019-06-12T02:00","q1":-1750,"q2":25000}],
  "rBox": [{"t1":"2019-05-24T19:00","t2":"2019-06-10T23:00","q1":25200,"q2":30600}]
 },
 "hconcat": [
  {
   "vconcat": [
    {
     "width": 394, "height": 42,
     "data": {"name": "lMoist"},
     "mark": {"type": "area", "color": "#FFC000", "line": {"color": "#5b4b00", "strokeWidth": 1}},
     "encoding": {
      "x": {"field": "t", "type": "temporal", "scale": {"domain": [{"year":2019,"month":5,"date":12},{"year":2019,"month":6,"date":12,"hours":7}]}, "axis": {"title": null, "labels": false, "ticks": false, "domain": false, "grid": true, "tickCount": {"interval": "day", "step": 1}}},
      "y": {"field": "v", "type": "quantitative", "title": "in", "scale": {"domain": [0, 1.4], "nice": false}, "axis": {"values": [0, 0.2, 0.4, 0.6, 0.8, 1, 1.2], "labelExpr": "round(datum.value*10) % 4 == 0 ? format(datum.value, '.1f') : ''", "labelBaseline": {"condition": {"test": "datum.value == 0", "value": "bottom"}, "value": "middle"}}}
     }
    },
    {
     "width": 394, "height": 92,
     "data": {"name": "lPrecip"},
     "transform": [{"fold": ["inc", "loss"], "as": ["kind", "p"]}],
     "mark": {"type": "bar", "size": 2},
     "encoding": {
      "x": {"field": "t", "type": "temporal", "scale": {"domain": [{"year":2019,"month":5,"date":12},{"year":2019,"month":6,"date":12,"hours":7}]}, "axis": {"orient": "top", "title": null, "labels": false, "ticks": false, "domain": true, "domainColor": "#d2461e", "domainWidth": 1.5, "grid": true, "tickCount": {"interval": "day", "step": 1}}},
      "y": {"field": "p", "type": "quantitative", "stack": null, "title": "Precip ()", "scale": {"domain": [0, 0.5], "nice": false, "reverse": true}, "axis": {"values": [0.1, 0.2, 0.3, 0.4, 0.5], "labelOverlap": false, "labelExpr": "format(datum.value, '.1f')", "labelBaseline": {"condition": {"test": "datum.value >= 0.5", "value": "bottom"}, "value": "middle"}}},
      "color": {"field": "kind", "type": "nominal", "scale": {"domain": ["inc", "loss"], "range": ["#2a2ae8", "#e8141c"]}, "legend": null},
      "order": {"field": "kind", "type": "nominal"}
     }
    },
    {
     "width": 394, "height": 190,
     "layer": [
      {"data": {"name": "lFlow"},
       "mark": {"type": "line", "strokeWidth": 1.3},
       "encoding": {
        "x": {"field": "t", "type": "temporal", "scale": {"domain": [{"year":2019,"month":5,"date":12},{"year":2019,"month":6,"date":12,"hours":7}]}, "axis": {"orient": "bottom", "title": null, "grid": true, "tickCount": {"interval": "day", "step": 1}, "labelExpr": "datum.value >= datetime(2019,5,12) ? '' : timeFormat(datum.value, '%-d')", "labelOffset": 6.3, "labelFontSize": 9.6, "labelOverlap": false, "labelFlush": false, "labelBound": false, "tickSize": 3, "labelPadding": -2, "domain": false}},
        "y": {"field": "q", "type": "quantitative", "title": "Flow ()", "scale": {"domain": [0, 60000], "nice": false}, "axis": {"values": [10000, 20000, 30000, 40000, 50000], "labelExpr": "format(datum.value, ',')"}},
        "color": {"field": "s", "type": "nominal",
         "scale": {"domain": ["B_SA06 00H0 MOISTURE DEFICIT", "B_SA06 00H0 PRECIP-INC", "B_SA06 00H0 PRECIP-LOSS", "B_SA06 00H0 FLOW", "J_SA07_MARKTWAINLAKE 00H0 FLOW-SIM", "J_SA07_MARKTWAINLAKE 00H0 FLOW", "J_SA07_MARKTWAINLAKE 00H0 FLOW-OBSERVED"],
                   "range": ["#b0961e", "#1a1ad0", "#e01b1b", "#8f8fe6", "#999999", "#3daa3d", "#e02424"]},
         "legend": {"title": null, "legendX": -38, "legendY": 218.9, "columnPadding": 37, "rowPadding": 0.6}},
        "strokeDash": {"field": "s", "type": "nominal",
         "scale": {"domain": ["B_SA06 00H0 MOISTURE DEFICIT", "B_SA06 00H0 PRECIP-INC", "B_SA06 00H0 PRECIP-LOSS", "B_SA06 00H0 FLOW", "J_SA07_MARKTWAINLAKE 00H0 FLOW-SIM", "J_SA07_MARKTWAINLAKE 00H0 FLOW", "J_SA07_MARKTWAINLAKE 00H0 FLOW-OBSERVED"],
                   "range": [[1, 0], [1, 0], [1, 0], [1.5, 1.5], [4, 2], [1, 0], [1, 0]]},
         "legend": null}
       }},
      {"data": {"name": "lDot"},
       "mark": {"type": "rect", "fill": "transparent", "stroke": "#1c1c80", "strokeWidth": 2, "strokeDash": [2, 1.5]},
       "encoding": {
        "x": {"field": "t1", "type": "temporal", "scale": {"domain": [{"year":2019,"month":5,"date":12},{"year":2019,"month":6,"date":12,"hours":7}]}, "axis": {"orient": "bottom", "title": null, "grid": false, "values": [{"year":2019,"month":5,"date":14,"hours":23},{"year":2019,"month":6,"date":1},{"year":2019,"month":6,"date":10,"hours":20}], "labelExpr": "date(datum.value) == 1 ? '' : timeFormat(datum.value, '%b%Y')", "offset": 16, "tickSize": 12, "tickColor": {"condition": {"test": "date(datum.value) == 1", "value": "#777777"}, "value": "transparent"}, "labelPadding": -13, "labelFontSize": 11.5, "labelFlush": false, "labelOverlap": false, "labelBound": false, "domain": false}},
        "x2": {"field": "t2"},
        "y": {"field": "q1", "type": "quantitative", "title": "Flow ()", "scale": {"domain": [0, 60000], "nice": false}},
        "y2": {"field": "q2"}
       }},
      {"data": {"name": "lBox"},
       "mark": {"type": "rect", "fill": "white", "stroke": "#111111", "strokeWidth": 1},
       "encoding": {
        "x": {"field": "t1", "type": "temporal", "scale": {"domain": [{"year":2019,"month":5,"date":12},{"year":2019,"month":6,"date":12,"hours":7}]}, "axis": null},
        "x2": {"field": "t2"},
        "y": {"field": "q1", "type": "quantitative", "title": "Flow ()", "scale": {"domain": [0, 60000], "nice": false}},
        "y2": {"field": "q2"}
       }},
      {"data": {"name": "lBox"},
       "mark": {"type": "text", "text": ["Observed computed flows", "are affected by wind fetch", "on the reservoir pool."], "align": "left", "baseline": "top", "dx": 2, "dy": 7.3, "font": "Liberation Sans", "fontSize": 10.8, "lineHeight": 16.6, "color": "#111111"},
       "encoding": {
        "x": {"field": "t1", "type": "temporal", "scale": {"domain": [{"year":2019,"month":5,"date":12},{"year":2019,"month":6,"date":12,"hours":7}]}, "axis": null},
        "y": {"field": "q2", "type": "quantitative", "title": "Flow ()", "scale": {"domain": [0, 60000], "nice": false}}
       }}
     ],
     "resolve": {"axis": {"x": "independent"}}
    }
   ],
   "spacing": 0,
   "bounds": "flush",
   "resolve": {"scale": {"color": "independent", "strokeDash": "independent"}, "legend": {"color": "independent", "strokeDash": "independent"}}
  },
  {
   "vconcat": [
    {
     "width": 387.5, "height": 47,
     "data": {"name": "rMoist"},
     "mark": {"type": "area", "color": "#B08800", "line": {"color": "#5a4500", "strokeWidth": 1}},
     "encoding": {
      "x": {"field": "t", "type": "temporal", "scale": {"domain": [{"year":2019,"month":5,"date":12},{"year":2019,"month":6,"date":12}]}, "axis": {"title": null, "labels": false, "ticks": false, "domain": false, "grid": true, "tickCount": {"interval": "day", "step": 1}}},
      "y": {"field": "v", "type": "quantitative", "title": "in", "scale": {"domain": [0, 1.4], "nice": false}, "axis": {"values": [0, 0.2, 0.4, 0.6, 0.8, 1, 1.2], "labelExpr": "round(datum.value*10) % 4 == 0 ? format(datum.value, '.1f') : ''"}}
     }
    },
    {
     "width": 387.5, "height": 83,
     "data": {"name": "rPrecip"},
     "transform": [{"fold": ["inc", "loss"], "as": ["kind", "p"]}],
     "mark": {"type": "bar", "size": 2},
     "encoding": {
      "x": {"field": "t", "type": "temporal", "scale": {"domain": [{"year":2019,"month":5,"date":12},{"year":2019,"month":6,"date":12}]}, "axis": {"orient": "top", "title": null, "labels": false, "ticks": false, "domain": true, "domainColor": "#b04a1e", "domainWidth": 1.5, "grid": true, "tickCount": {"interval": "day", "step": 1}}},
      "y": {"field": "p", "type": "quantitative", "stack": null, "title": "Precip ()", "scale": {"domain": [0, 0.7], "nice": false, "reverse": true}, "axis": {"values": [0.1, 0.2, 0.3, 0.4, 0.5, 0.6, 0.7], "labelOverlap": false, "labelExpr": "format(datum.value, '.1f')", "labelBaseline": {"condition": {"test": "datum.value >= 0.7", "value": "bottom"}, "value": "middle"}}},
      "color": {"field": "kind", "type": "nominal", "scale": {"domain": ["inc", "loss"], "range": ["#2a2ae8", "#e8141c"]}, "legend": null},
      "order": {"field": "kind", "type": "nominal"}
     }
    },
    {
     "width": 387.5, "height": 210,
     "layer": [
      {"data": {"name": "rFlow"},
       "mark": {"type": "line", "strokeWidth": 1.3},
       "encoding": {
        "x": {"field": "t", "type": "temporal", "scale": {"domain": [{"year":2019,"month":5,"date":12},{"year":2019,"month":6,"date":12}]}, "axis": {"orient": "bottom", "title": null, "grid": true, "tickCount": {"interval": "day", "step": 1}, "labelExpr": "datum.value >= datetime(2019,5,12) ? '' : timeFormat(datum.value, '%-d')", "labelOffset": 6.25, "labelFontSize": 7.2, "labelOverlap": false, "labelFlush": false, "labelBound": false, "tickSize": 3, "labelPadding": 2, "domain": false}},
        "y": {"field": "q", "type": "quantitative", "title": "Flow ()", "scale": {"domain": [0, 30200], "nice": false}, "axis": {"values": [0, 5000, 10000, 15000, 20000, 25000], "labelExpr": "datum.value == 0 ? '-0' : format(datum.value, ',')"}},
        "detail": {"field": "seg", "type": "nominal"},
        "color": {"field": "s", "type": "nominal",
         "scale": {"domain": ["B_SA02 00H0 MOISTURE DEFICIT", "B_SA02 00H0 PRECIP-INC", "B_SA02 00H0 PRECIP-LOSS", "J_SA02_ASHBURNGAGE 00H0 FLOW-SIM", "J_SA02_ASHBURNGAGE 00H0 FLOW", "J_SA02_ASHBURNGAGE 00H0 FLOW-OBSERVED"],
                   "range": ["#b0961e", "#1a1ad0", "#e01b1b", "#999999", "#6cc46c", "#e87d7d"]},
         "legend": {"title": null, "legendX": -45.5, "legendY": 232.2, "columnPadding": 40, "rowPadding": 0}},
        "strokeDash": {"field": "s", "type": "nominal",
         "scale": {"domain": ["B_SA02 00H0 MOISTURE DEFICIT", "B_SA02 00H0 PRECIP-INC", "B_SA02 00H0 PRECIP-LOSS", "J_SA02_ASHBURNGAGE 00H0 FLOW-SIM", "J_SA02_ASHBURNGAGE 00H0 FLOW", "J_SA02_ASHBURNGAGE 00H0 FLOW-OBSERVED"],
                   "range": [[1, 0], [1, 0], [1, 0], [4, 2], [1, 0], [1, 0]]},
         "legend": null}
       }},
      {"data": {"name": "rDot"},
       "mark": {"type": "rect", "fill": "transparent", "stroke": "#1c1c80", "strokeWidth": 2, "strokeDash": [2, 1.5]},
       "encoding": {
        "x": {"field": "t1", "type": "temporal", "scale": {"domain": [{"year":2019,"month":5,"date":12},{"year":2019,"month":6,"date":12}]}, "axis": {"orient": "bottom", "title": null, "grid": false, "values": [{"year":2019,"month":5,"date":16,"hours":3},{"year":2019,"month":6,"date":1},{"year":2019,"month":6,"date":11,"hours":16}], "labelExpr": "date(datum.value) == 1 ? '' : timeFormat(datum.value, '%b%Y')", "offset": 13, "tickSize": 7, "tickColor": {"condition": {"test": "date(datum.value) == 1", "value": "#777777"}, "value": "transparent"}, "labelPadding": -5.5, "labelFontSize": 6.8, "labelFlush": false, "labelOverlap": false, "labelBound": false, "domain": false}},
        "x2": {"field": "t2"},
        "y": {"field": "q1", "type": "quantitative", "title": "Flow ()", "scale": {"domain": [0, 30200], "nice": false}},
        "y2": {"field": "q2"}
       }},
      {"data": {"name": "rBox"},
       "mark": {"type": "rect", "fill": "white", "stroke": "#111111", "strokeWidth": 1},
       "encoding": {
        "x": {"field": "t1", "type": "temporal", "scale": {"domain": [{"year":2019,"month":5,"date":12},{"year":2019,"month":6,"date":12}]}, "axis": null},
        "x2": {"field": "t2"},
        "y": {"field": "q1", "type": "quantitative", "title": "Flow ()", "scale": {"domain": [0, 30200], "nice": false}},
        "y2": {"field": "q2"}
       }},
      {"data": {"name": "rBox"},
       "mark": {"type": "text", "text": ["Observed computed flows are affected by", "Mississippi backwater."], "align": "left", "baseline": "top", "dx": 1.5, "dy": 6.6, "font": "Liberation Sans", "fontSize": 10.7, "lineHeight": 16.7, "color": "#111111"},
       "encoding": {
        "x": {"field": "t1", "type": "temporal", "scale": {"domain": [{"year":2019,"month":5,"date":12},{"year":2019,"month":6,"date":12}]}, "axis": null},
        "y": {"field": "q2", "type": "quantitative", "title": "Flow ()", "scale": {"domain": [0, 30200], "nice": false}}
       }}
     ],
     "resolve": {"axis": {"x": "independent"}}
    }
   ],
   "spacing": 0,
   "bounds": "flush",
   "resolve": {"scale": {"color": "independent", "strokeDash": "independent"}, "legend": {"color": "independent", "strokeDash": "independent"}}
  }
 ],
 "spacing": 11.5,
 "bounds": "full",
 "resolve": {"scale": {"color": "independent", "strokeDash": "independent"}, "legend": {"color": "independent", "strokeDash": "independent"}}
}
